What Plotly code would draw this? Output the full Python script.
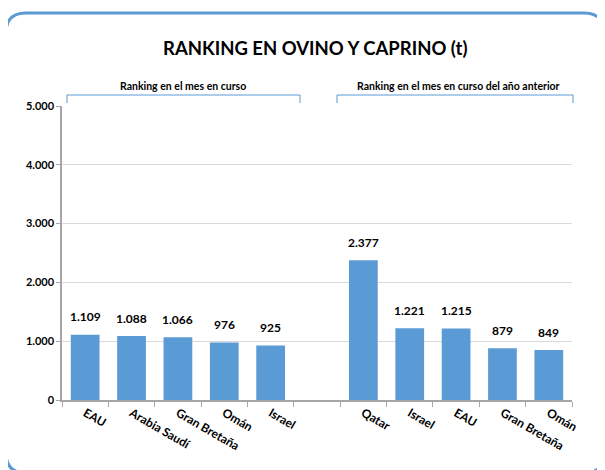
import plotly.graph_objects as go

categories_current = ["EAU", "Arabia Saudí", "Gran Bretaña", "Omán", "Israel"]
values_current = [1109, 1088, 1066, 976, 925]
categories_previous = ["Qatar", "Israel", "EAU", "Gran Bretaña", "Omán"]
values_previous = [2377, 1221, 1215, 879, 849]
group_labels = ["Ranking en el mes en curso", "Ranking en el mes en curso del año anterior"]
title = "RANKING EN OVINO Y CAPRINO (t)"
y_ticks = [0, 1000, 2000, 3000, 4000, 5000]

BLUE = "#5B9BD5"
FONT = "Lato"
OFF = 8  # page body margin offset
W, H = 605 - OFF, 470 - OFF
L, T = 62 - OFF, 106 - OFF
PW, PH = 510, 294
R, B = W - L - PW, H - T - PH


def px(X):
    return (X - OFF - L) / PW


def py(Y):
    return (T + PH - (Y - OFF)) / PH


x_cur = list(range(len(categories_current)))
x_prev = [len(categories_current) + 1 + i for i in range(len(categories_previous))]
xs = x_cur + x_prev
vals = values_current + values_previous
labels = categories_current + categories_previous

fig = go.Figure()
fig.add_trace(go.Bar(x=xs, y=vals, marker=dict(color=BLUE, line=dict(width=0)),
                     width=0.62, hoverinfo="skip"))


def fmt(v):
    return f"{v:,}".replace(",", ".")


for x, v in zip(xs, vals):
    fig.add_annotation(x=x, y=v, text=f"<b>{fmt(v)}</b>", showarrow=False,
                       yshift=18, yanchor="middle",
                       font=dict(family=FONT, size=12, color="#000000"))

shapes = []
x0, y0, x1, y1, r = 6, 13, 604, 473, 20
path = (f"M {px(x0)},{py(y0 + r)} "
        f"Q {px(x0)},{py(y0)} {px(x0 + r)},{py(y0)} "
        f"L {px(x1 - r)},{py(y0)} "
        f"Q {px(x1)},{py(y0)} {px(x1)},{py(y0 + r)} "
        f"L {px(x1)},{py(y1 - r)} "
        f"Q {px(x1)},{py(y1)} {px(x1 - r)},{py(y1)} "
        f"L {px(x0 + r)},{py(y1)} "
        f"Q {px(x0)},{py(y1)} {px(x0)},{py(y1 - r)} Z")
shapes.append(dict(type="path", xref="paper", yref="paper", path=path,
                   line=dict(color=BLUE, width=3), layer="below"))

for (bx0, bx1) in [(67, 300), (337, 573)]:
    p = (f"M {px(bx0)},{py(103)} L {px(bx0)},{py(95)} "
         f"L {px(bx1)},{py(95)} L {px(bx1)},{py(103)}")
    shapes.append(dict(type="path", xref="paper", yref="paper", path=p,
                       line=dict(color=BLUE, width=1)))

for text, cx in zip(group_labels, [183, 458]):
    fig.add_annotation(xref="paper", yref="paper", x=px(cx), y=py(86),
                       text=f"<b>{text}</b>", showarrow=False,
                       xanchor="center", yanchor="middle",
                       font=dict(family=FONT, size=10.5, color="#000000"))

fig.add_annotation(xref="paper", yref="paper", x=px(315), y=py(48),
                   text=f"<b>{title}</b>", showarrow=False,
                   xanchor="center", yanchor="middle",
                   font=dict(family=FONT, size=18.5, color="#000000"))

fig.update_layout(
    width=W, height=H,
    margin=dict(l=L, r=R, t=T, b=B),
    paper_bgcolor="white", plot_bgcolor="white",
    showlegend=False, shapes=shapes,
    separators=",.",
    font=dict(family=FONT, color="#000000"),
)
fig.update_xaxes(
    range=[-0.5, len(xs) + 0.5],
    tickmode="array", tickvals=xs,
    ticktext=[f"<b>{t}</b>" for t in labels],
    tickangle=30, ticks="",
    tickfont=dict(family=FONT, size=12, color="#000000"),
    showline=True, linecolor="#A6A6A6", linewidth=1.5,
    showgrid=False, zeroline=False,
    minor=dict(tick0=0.5, dtick=1, ticks="outside", ticklen=5,
               tickcolor="#A6A6A6", showgrid=False),
)
fig.update_yaxes(
    range=[0, 5000], tickmode="array", tickvals=y_ticks,
    ticktext=[f"<b>{fmt(v)}</b>" for v in y_ticks],
    ticks="outside", ticklen=4, tickcolor="#A6A6A6",
    tickfont=dict(family=FONT, size=11, color="#000000"),
    showline=True, linecolor="#A6A6A6", linewidth=1.5,
    showgrid=True, gridcolor="#D9D9D9", gridwidth=1,
    zeroline=False,
)

fig.write_html("out.html")
